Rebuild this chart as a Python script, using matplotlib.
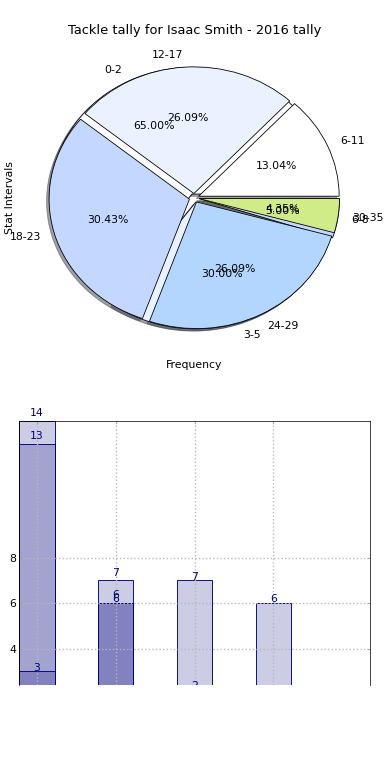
import matplotlib.pyplot as plt
from matplotlib.patches import Rectangle
import numpy as np

plt.rcParams['font.family'] = 'DejaVu Sans'
plt.rcParams['font.size'] = 12

# Tackle counts per stat interval (two overlaid pies)
low_labels = ['0-2', '3-5', '6-8']
low_counts = [13, 6, 1]

high_labels = ['6-11', '12-17', '18-23', '24-29', '30-35']
high_counts = [3, 6, 7, 6, 1]

# Bar series (overlaid, not stacked)
bar_a = low_counts
bar_b = high_counts
bar_c = [14, 7, 2]
y_ticks = [0, 2, 4, 6, 8]

PIE_COLORS = ['#ffffff', '#eaf2ff', '#c4d8ff', '#b3d6ff', '#d0ec88']
BAR_FACE = (0, 0, 0.5, 0.2)
EXPLODE = 0.035

fig = plt.figure(figsize=(6, 12), dpi=65)

# --- pie ---
ax1 = fig.add_axes([0.048, 0.5432, 0.9, 0.406])
wedge_style = dict(edgecolor='black', linewidth=0.9)
ax1.pie(low_counts, labels=low_labels, colors=PIE_COLORS,
        explode=[EXPLODE] * len(low_counts), autopct='%.2f%%',
        shadow=True, wedgeprops=wedge_style)
ax1.pie(high_counts, labels=high_labels, colors=PIE_COLORS,
        explode=[EXPLODE] * len(high_counts), autopct='%.2f%%',
        shadow=True, wedgeprops=wedge_style)
ax1.set_aspect('auto')
ax1.set_title('Tackle tally for Isaac Smith - 2016 tally', fontsize=14.4)
ax1.set_xlabel('Frequency')
ax1.set_ylabel('Stat Intervals')

# --- bars ---
ax2 = fig.add_axes([0.049, 0.1218, 0.9, 0.3385])
# labels may sit above the frame but get cut at its lower edge
label_clip = Rectangle((0, 0), 1, 1.5, transform=ax2.transAxes)
width = 0.45
for series, offset in [(bar_a, 0.12), (bar_b, -0.06), (bar_c, 0.12)]:
    xs = np.arange(len(series))
    ax2.bar(xs, series, width=width, color=BAR_FACE,
            edgecolor='navy', linewidth=1)
    for x, h in zip(xs, series):
        t = ax2.text(x, h + offset, str(h), ha='center', va='bottom',
                     color='navy', fontsize=12)
        t.set_clip_path(label_clip)
        t.set_clip_on(True)

ax2.margins(x=0)
ax2.set_yticks(y_ticks)
ax2.set_xticks(range(4))
ax2.set_ylim(2.4, max(bar_c))
ax2.grid(True, color='0.72', linestyle=':', linewidth=1.5)
ax2.tick_params(direction='in', top=True, right=True, bottom=False,
                labelbottom=False, color='0.6', labelsize=12)
ax2.spines['bottom'].set_visible(False)

fig.savefig('out.png', dpi=65)
